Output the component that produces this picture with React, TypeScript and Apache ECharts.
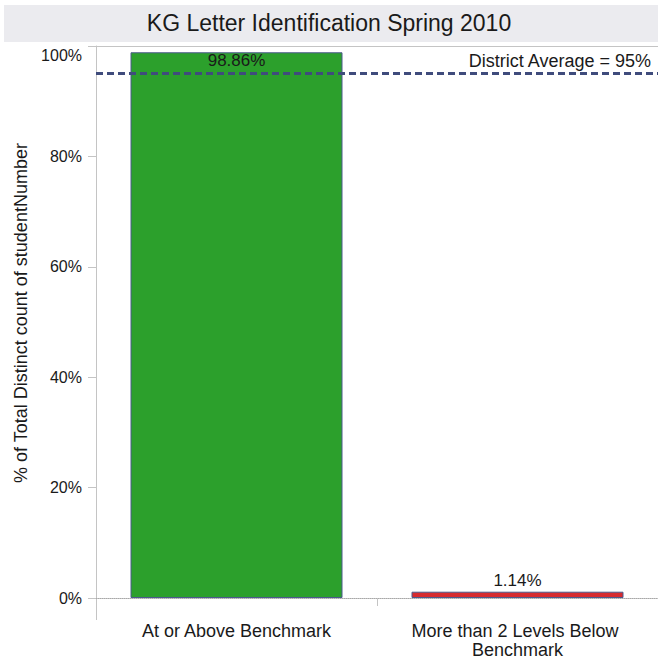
import React, { useEffect, useRef } from "react";
import * as echarts from "echarts";

const categories = ["At or Above Benchmark", "More than 2 Levels Below Benchmark"];
const values = [98.86, 1.14];
const valueLabels = ["98.86%", "1.14%"];
const barColors = ["#2ca02c", "#d62a2f"];
const yTicks = [0, 20, 40, 60, 80, 100];
const districtAverage = 95;
const titleText = "KG Letter Identification Spring 2010";
const yAxisName = "% of Total Distinct count of studentNumber";

const FONT = "'Liberation Sans', Arial, sans-serif";
const TXT = "#1a1a1a";

export default function App() {
  const ref = useRef<HTMLDivElement>(null);
  useEffect(() => {
    if (!ref.current) return;
    const chart = echarts.init(ref.current, undefined, { renderer: "svg" });
    chart.setOption({
      animation: false,
      backgroundColor: "#ffffff",
      textStyle: { fontFamily: FONT },
      title: {
        text: titleText,
        left: "center",
        top: 11,
        padding: 0,
        textStyle: { fontSize: 23, fontWeight: "normal", color: TXT, fontFamily: FONT },
      },
      graphic: [
        {
          type: "rect",
          z: -1,
          shape: { x: 4, y: 5, width: 654, height: 37 },
          style: { fill: "#ebebef" },
        },
        {
          type: "line",
          shape: { x1: 96.5, y1: 598, x2: 96.5, y2: 620 },
          style: { stroke: "#c4c4c4", lineWidth: 1 },
        },
      ],
      grid: { left: 96, top: 46, right: -2, bottom: 61, containLabel: false },
      xAxis: {
        type: "category",
        data: categories,
        offset: 14,
        axisLine: { show: true, lineStyle: { color: "#c4c4c4", width: 1 } },
        axisTick: { show: true, alignWithLabel: false, length: 8, lineStyle: { color: "#c4c4c4" } },
        axisLabel: {
          interval: 0,
          margin: 9,
          fontSize: 18,
          lineHeight: 19,
          color: TXT,
          fontFamily: FONT,
          width: 260,
          overflow: "break",
        },
        splitLine: { show: false },
      },
      yAxis: {
        type: "value",
        min: yTicks[0],
        max: yTicks[yTicks.length - 1],
        interval: yTicks[1] - yTicks[0],
        name: yAxisName,
        nameLocation: "middle",
        nameGap: 63,
        nameTextStyle: { fontSize: 18, color: TXT, fontFamily: FONT, padding: [0, 0, 0, 18] },
        axisLine: { show: true, lineStyle: { color: "#c4c4c4", width: 1 } },
        axisTick: { show: true, length: 8, lineStyle: { color: "#c4c4c4" } },
        axisLabel: {
          margin: 14,
          fontSize: 16,
          color: TXT,
          fontFamily: FONT,
          formatter: (v: number) => (v === 100 ? "{top|" + v + "%}" : v + "%"),
          rich: { top: { fontSize: 16, color: TXT, fontFamily: FONT, padding: [18, 0, 0, 0] } },
        },
        splitLine: { show: false },
      },
      series: [
        {
          type: "line",
          data: [],
          z: 1,
          markLine: {
            silent: true,
            symbol: "none",
            z: 1,
            data: [
              {
                yAxis: 100,
                lineStyle: { color: "#c4c4c4", width: 1, type: "solid" },
                label: { show: false },
              },
              {
                yAxis: 0,
                lineStyle: { color: "#a8a8a8", width: 1, type: "dotted" },
                label: { show: false },
              },
            ],
          },
        },
        {
          type: "bar",
          barWidth: 212,
          z: 2,
          data: values.map((v, i) => ({
            value: v,
            itemStyle: { color: barColors[i], borderColor: "#4b5a8c", borderWidth: 1 },
            label: {
              show: true,
              position: i === 0 ? "insideTop" : "top",
              distance: i === 0 ? 0 : 3,
              formatter: valueLabels[i],
              fontSize: 17,
              color: TXT,
              fontFamily: FONT,
            },
          })),
          markLine: {
            silent: true,
            symbol: "none",
            z: 5,
            data: [
              {
                yAxis: districtAverage,
                lineStyle: { color: "#3f4c7c", width: 3, type: [7, 4] },
                label: {
                  show: true,
                  position: "insideEndTop",
                  distance: [7, 4],
                  formatter: "District Average = " + districtAverage + "%",
                  fontSize: 18,
                  color: TXT,
                  fontFamily: FONT,
                },
              },
            ],
          },
        },
      ],
    });
    return () => chart.dispose();
  }, []);
  return (
    <div
      ref={ref}
      style={{ position: "fixed", left: 0, top: 0, width: 658, height: 659 }}
    />
  );
}
